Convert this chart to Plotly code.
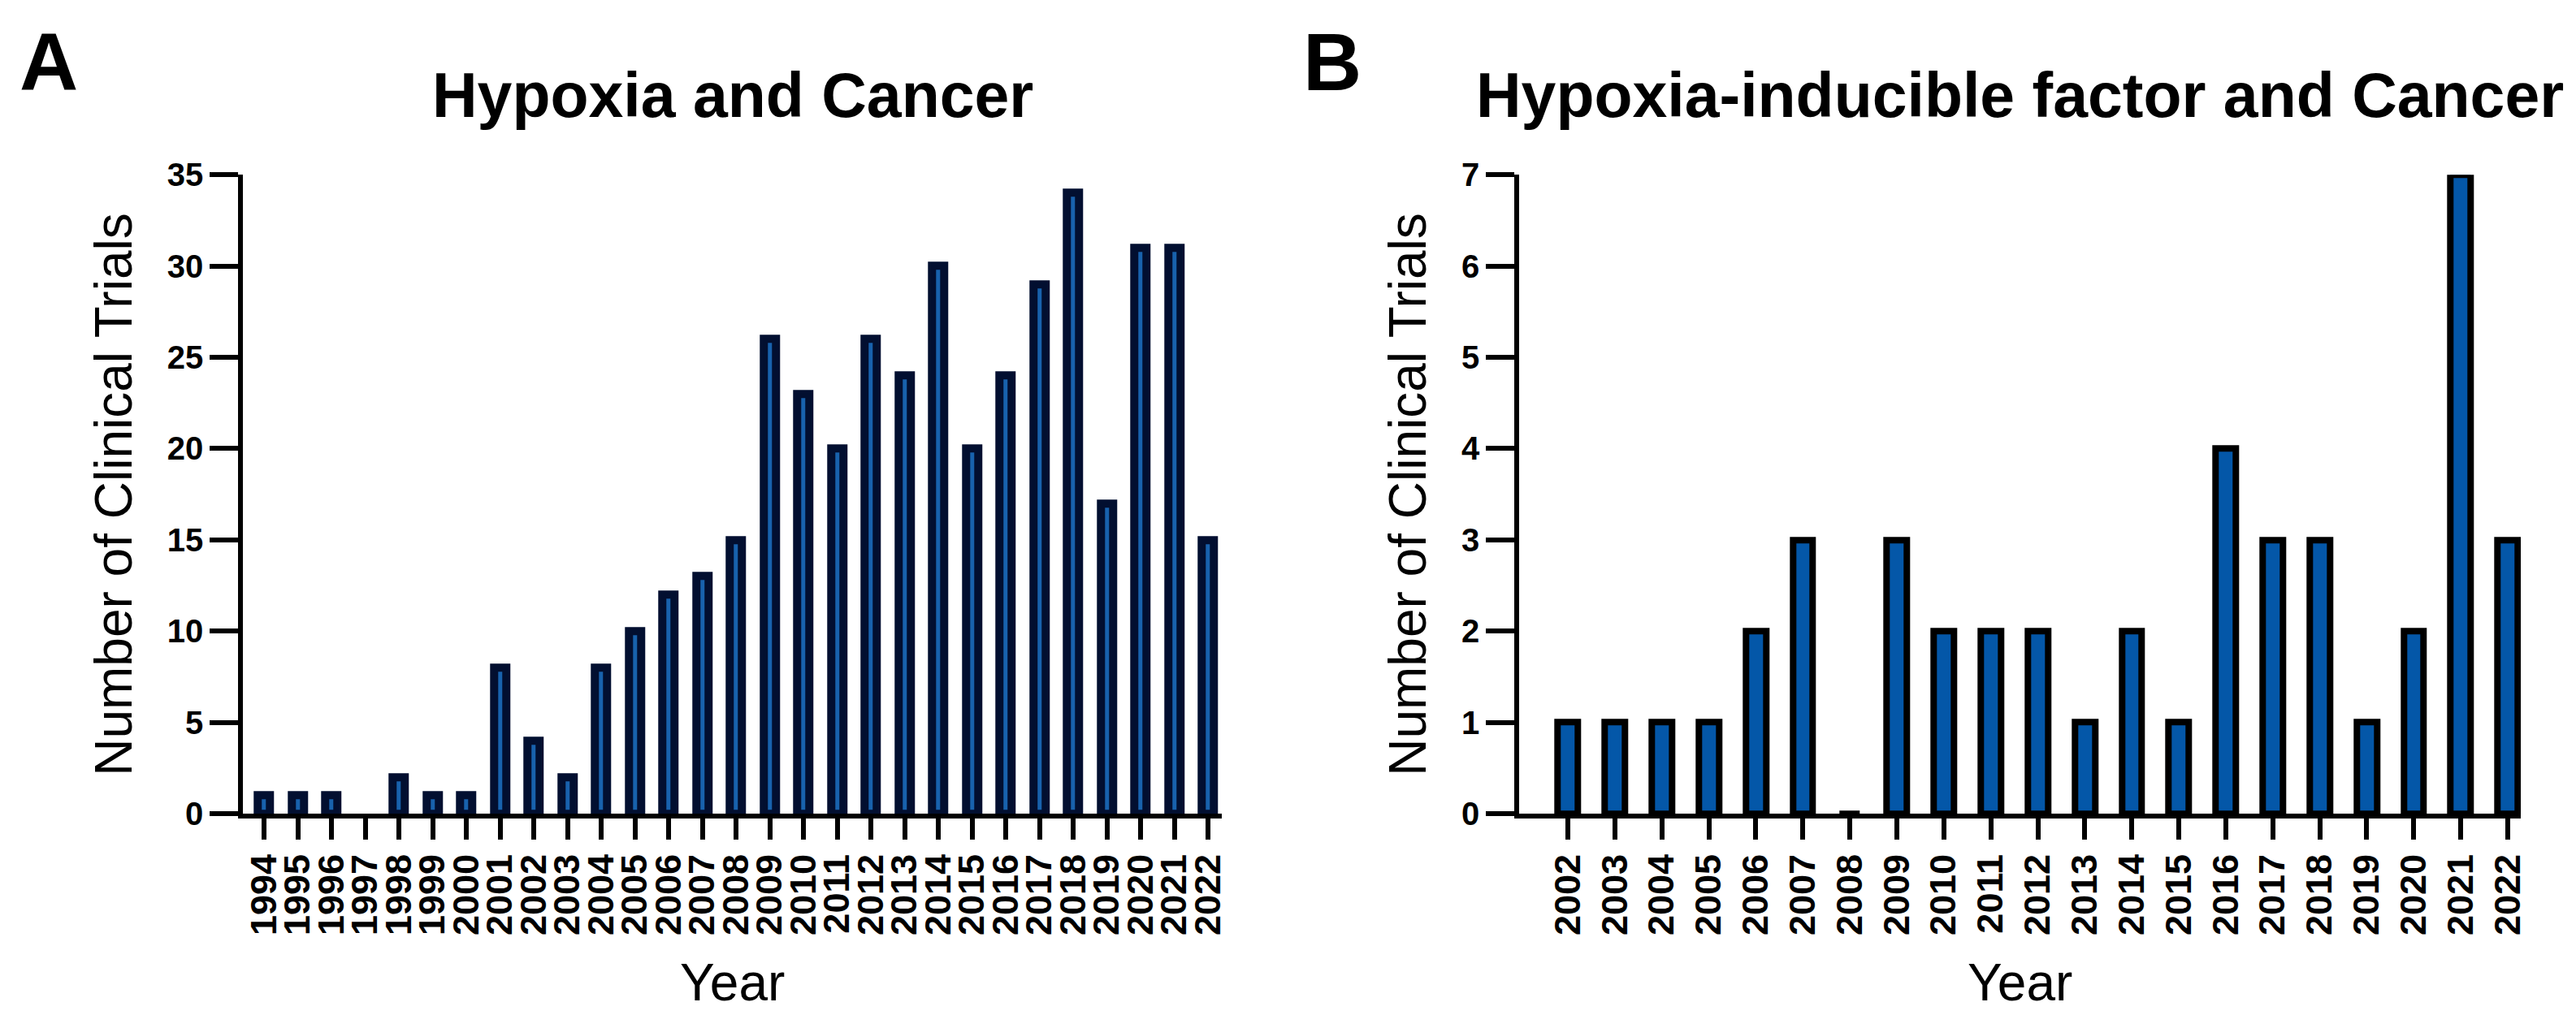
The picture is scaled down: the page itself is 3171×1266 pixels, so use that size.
import plotly.graph_objects as go

W, H = 3171, 1266

years_a = [str(y) for y in range(1994, 2023)]
# 1997: no bar drawn in the reference
trials_a = [1, 1, 1, None, 2, 1, 1, 8, 4, 2, 8, 10, 12, 13, 15, 26, 23, 20, 26, 24,
            30, 20, 24, 29, 34, 17, 31, 31, 15]

years_b = [str(y) for y in range(2002, 2023)]
trials_b = [1, 1, 1, 1, 2, 3, 0, 3, 2, 2, 2, 1, 2, 1, 4, 3, 3, 1, 2, 7, 3]

title_a = "Hypoxia and Cancer"
title_b = "Hypoxia-inducible factor and Cancer"
ytitle = "Number of Clinical Trials"
xtitle = "Year"

FONT = "Liberation Sans"

def px(x):
    return x / W

def py(y):
    return 1 - y / H

fig = go.Figure()
fig.add_trace(go.Bar(x=years_a, y=trials_a, width=0.36,
                     marker=dict(color="#1862ad", line=dict(color="#020f30", width=10)),
                     xaxis="x", yaxis="y", showlegend=False))
fig.add_trace(go.Bar(x=years_b, y=trials_b, width=0.43,
                     marker=dict(color="#0457a8", line=dict(color="#000000", width=8)),
                     xaxis="x2", yaxis="y2", showlegend=False))

ydom = [py(1007), py(192)]
common_x = dict(type="category", showline=True, linecolor="black", linewidth=6,
                ticks="outside", ticklen=26, tickwidth=6, tickcolor="black",
                tickangle=-90, tickfont=dict(family=FONT, size=45, color="black", weight="bold"),
                showgrid=False, zeroline=False, fixedrange=True, tickmode="array")
common_y = dict(showline=True, linecolor="black", linewidth=6,
                ticks="outside", ticklen=35, tickwidth=6, tickcolor="black",
                tickfont=dict(family=FONT, size=40, color="black", weight="bold"),
                showgrid=False, zeroline=False, domain=ydom)

fig.update_layout(
    width=W, height=H, margin=dict(l=0, r=0, t=0, b=0),
    paper_bgcolor="white", plot_bgcolor="white",
    xaxis=dict(domain=[px(292), px(1500)], range=[-0.625, 28.41], anchor="y",
               tickvals=years_a, ticktext=years_a, **common_x),
    yaxis=dict(range=[0, 35], dtick=5, anchor="x", **common_y),
    xaxis2=dict(domain=[px(1867), px(3103)], range=[-1.034, 20.28], anchor="y2",
                tickvals=years_b, ticktext=years_b, **common_x),
    yaxis2=dict(range=[0, 7], dtick=1, anchor="x2", **common_y),
    bargap=0,
)

ann = []
ann.append(dict(text="<b>A</b>", x=px(52), y=py(48), font=dict(size=100)))
ann.append(dict(text="<b>B</b>", x=px(1636), y=py(48), font=dict(size=100)))
ann.append(dict(text="<b>" + title_a + "</b>", x=px(896), y=py(90), font=dict(size=77)))
ann.append(dict(text="<b>" + title_b + "</b>", x=px(2485), y=py(90), font=dict(size=77)))
ann.append(dict(text=ytitle, x=px(132), y=py(600), textangle=-90, font=dict(size=64)))
ann.append(dict(text=ytitle, x=px(1730), y=py(600), textangle=-90, font=dict(size=64)))
ann.append(dict(text=xtitle, x=px(896), y=py(1222), font=dict(size=64)))
ann.append(dict(text=xtitle, x=px(2485), y=py(1222), font=dict(size=64)))

for a in ann:
    a.update(xref="paper", yref="paper", showarrow=False, xanchor="center", yanchor="middle")
    a["font"].update(family=FONT, color="black")
fig.update_layout(annotations=ann)

fig.write_html("out.html")
